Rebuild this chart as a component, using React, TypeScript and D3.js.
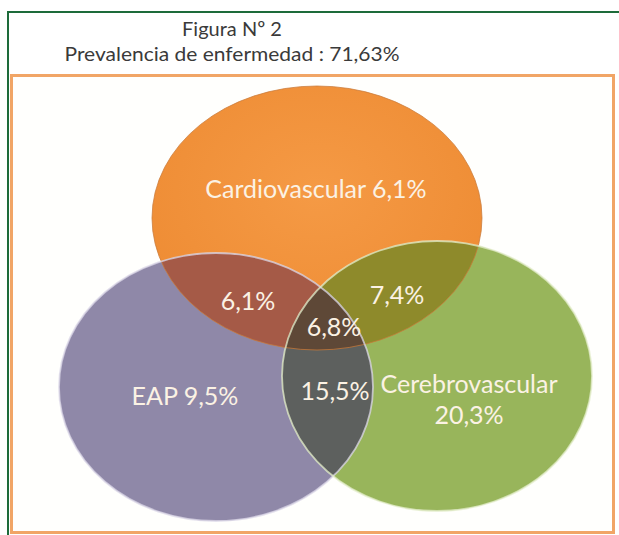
import React, { useEffect, useRef } from 'react';
import * as d3 from 'd3';

// data
const titleLines = ['Figura Nº 2', 'Prevalencia de enfermedad : 71,63%'];
const setNames = ['Cardiovascular', 'EAP', 'Cerebrovascular'];
const setOnlyValues = [6.1, 9.5, 20.3];
const pairNames = ['Cardiovascular-EAP', 'Cardiovascular-Cerebrovascular', 'EAP-Cerebrovascular'];
const pairValues = [6.1, 7.4, 15.5];
const tripleValue = 6.8;

// layout (pixels)
const W = 619;
const H = 535;
const ellipses = [
  { cx: 317, cy: 218, rx: 165, ry: 132, fill: '#F2933C', stroke: '#C97A38' },
  { cx: 216, cy: 387, rx: 157, ry: 134, fill: '#8F88A8', stroke: '#DCD8E8' },
  { cx: 437, cy: 376, rx: 155, ry: 135, fill: '#98B55B', stroke: '#E4EECC' },
];
const pairFills = ['#A55A47', '#8E8A2B', '#5D605E'];
const pairIdx = [[0, 1], [0, 2], [1, 2]];
const tripleFill = '#5E4837';

const setLabelPos = [
  { x: 316, y: 198 },
  { x: 185, y: 405 },
  { x: 469, y: 393 },
];
const pairLabelPos = [
  { x: 248, y: 310 },
  { x: 397, y: 304 },
  { x: 335, y: 400 },
];
const tripleLabelPos = { x: 334, y: 336 };

const locale = d3.formatLocale({ decimal: ',', thousands: '.', grouping: [3], currency: ['', '€'] });
const pct = (v: number) => locale.format('.1f')(v) + '%';

export default function App() {
  const svgRef = useRef<SVGSVGElement>(null);

  useEffect(() => {
    const svg = d3.select(svgRef.current);
    svg.selectAll('*').remove();

    const defs = svg.append('defs');
    ellipses.forEach((e, i) => {
      defs.append('clipPath').attr('id', `clip-${i}`)
        .append('ellipse')
        .attr('cx', e.cx).attr('cy', e.cy).attr('rx', e.rx).attr('ry', e.ry);
    });
    const grad = defs.append('radialGradient').attr('id', 'orange-grad')
      .attr('cx', '50%').attr('cy', '40%').attr('r', '60%');
    grad.append('stop').attr('offset', '0%').attr('stop-color', '#F59A45');
    grad.append('stop').attr('offset', '100%').attr('stop-color', '#EE8C34');

    svg.append('rect').attr('width', W).attr('height', H).attr('fill', '#fff');

    // outer green frame
    svg.append('rect')
      .attr('x', 8).attr('y', 12).attr('width', 640).attr('height', 560)
      .attr('fill', 'none').attr('stroke', '#1D6B3A').attr('stroke-width', 2);

    // orange plot frame
    svg.append('rect')
      .attr('x', 11.5).attr('y', 75.5).attr('width', 602).attr('height', 457)
      .attr('fill', '#fffffd').attr('stroke', '#F1A566').attr('stroke-width', 3);

    const title = svg.append('g')
      .attr('font-family', 'Lato, "Open Sans", sans-serif')
      .attr('fill', '#3a3a3a')
      .attr('font-size', 20)
      .attr('text-anchor', 'middle');
    title.append('text').attr('x', 232).attr('y', 36).text(titleLines[0]);
    title.append('text').attr('x', 232).attr('y', 61).attr('textLength', 335)
      .attr('lengthAdjust', 'spacingAndGlyphs').text(titleLines[1]);

    const venn = svg.append('g');

    // base sets
    venn.selectAll('ellipse.set')
      .data(ellipses)
      .enter().append('ellipse')
      .attr('class', 'set')
      .attr('cx', d => d.cx).attr('cy', d => d.cy)
      .attr('rx', d => d.rx).attr('ry', d => d.ry)
      .attr('fill', (d, i) => (i === 0 ? 'url(#orange-grad)' : d.fill));

    // pairwise overlaps
    pairIdx.forEach(([a, b], i) => {
      const e = ellipses[b];
      venn.append('g').attr('clip-path', `url(#clip-${a})`)
        .append('ellipse')
        .attr('cx', e.cx).attr('cy', e.cy).attr('rx', e.rx).attr('ry', e.ry)
        .attr('fill', pairFills[i]);
    });

    // triple overlap
    const e2 = ellipses[2];
    venn.append('g').attr('clip-path', 'url(#clip-0)')
      .append('g').attr('clip-path', 'url(#clip-1)')
      .append('ellipse')
      .attr('cx', e2.cx).attr('cy', e2.cy).attr('rx', e2.rx).attr('ry', e2.ry)
      .attr('fill', tripleFill);

    // rims
    venn.selectAll('ellipse.rim')
      .data(ellipses)
      .enter().append('ellipse')
      .attr('class', 'rim')
      .attr('cx', d => d.cx).attr('cy', d => d.cy)
      .attr('rx', d => d.rx).attr('ry', d => d.ry)
      .attr('fill', 'none')
      .attr('stroke', d => d.stroke)
      .attr('stroke-opacity', 0.75)
      .attr('stroke-width', (d, i) => (i === 0 ? 1 : 1.8));

    const labels = svg.append('g')
      .attr('font-family', 'Lato, "Open Sans", sans-serif')
      .attr('font-size', 25)
      .attr('fill', '#FBF2E4')
      .attr('text-anchor', 'middle');

    setNames.forEach((name, i) => {
      const p = setLabelPos[i];
      if (i === 2) {
        labels.append('text').attr('x', p.x).attr('y', p.y).text(name);
        labels.append('text').attr('x', p.x).attr('y', p.y + 31).text(pct(setOnlyValues[i]));
      } else {
        labels.append('text').attr('x', p.x).attr('y', p.y).text(`${name} ${pct(setOnlyValues[i])}`);
      }
    });

    pairNames.forEach((name, i) => {
      const p = pairLabelPos[i];
      labels.append('text').attr('x', p.x).attr('y', p.y)
        .attr('data-pair', name)
        .text(pct(pairValues[i]));
    });

    labels.append('text').attr('x', tripleLabelPos.x).attr('y', tripleLabelPos.y)
      .text(pct(tripleValue));
  }, []);

  return (
    <svg
      ref={svgRef}
      width={W}
      height={H}
      style={{ position: 'absolute', left: 0, top: 0 }}
    />
  );
}
